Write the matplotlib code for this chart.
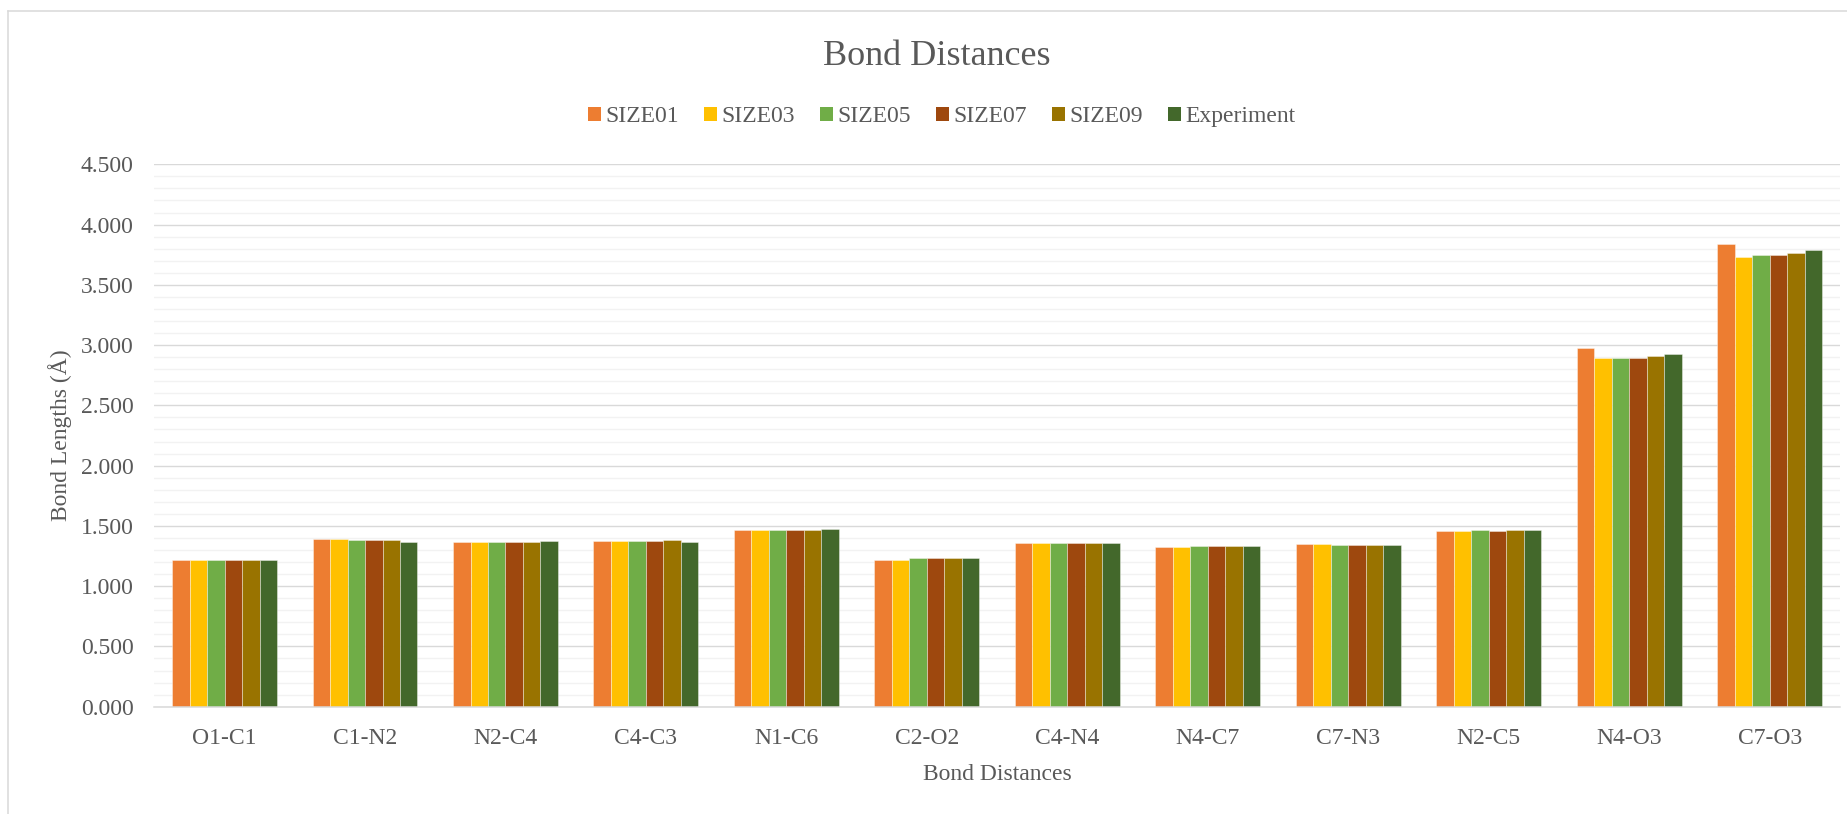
import numpy as np
import matplotlib
matplotlib.use("Agg")
import matplotlib.pyplot as plt
from matplotlib.ticker import MultipleLocator, FormatStrFormatter
from matplotlib.lines import Line2D

# Bond labels and computed / experimental bond lengths (Å)
bonds = ["O1-C1", "C1-N2", "N2-C4", "C4-C3", "N1-C6", "C2-O2",
         "C4-N4", "N4-C7", "C7-N3", "N2-C5", "N4-O3", "C7-O3"]

size01 = [1.220, 1.393, 1.368, 1.371, 1.464, 1.220, 1.360, 1.327, 1.352, 1.456, 2.972, 3.840]
size03 = [1.220, 1.393, 1.368, 1.371, 1.470, 1.220, 1.360, 1.327, 1.352, 1.456, 2.895, 3.735]
size05 = [1.220, 1.385, 1.368, 1.376, 1.470, 1.234, 1.357, 1.335, 1.343, 1.464, 2.895, 3.749]
size07 = [1.220, 1.385, 1.368, 1.376, 1.467, 1.231, 1.354, 1.335, 1.343, 1.459, 2.892, 3.749]
size09 = [1.220, 1.385, 1.365, 1.382, 1.467, 1.231, 1.357, 1.335, 1.343, 1.464, 2.906, 3.764]
experiment = [1.217, 1.368, 1.374, 1.363, 1.473, 1.231, 1.360, 1.330, 1.338, 1.462, 2.928, 3.788]

series_names = ["SIZE01", "SIZE03", "SIZE05", "SIZE07", "SIZE09", "Experiment"]
series_values = [size01, size03, size05, size07, size09, experiment]
series_colors = ["#ED7D31", "#FFC000", "#70AD47", "#9E480E", "#997300", "#43682B"]

TEXT = "#595959"
plt.rcParams["font.family"] = ["Liberation Serif", "DejaVu Serif"]

W, H = 1847, 814
fig = plt.figure(figsize=(W / 100, H / 100), dpi=100)
fig.patch.set_facecolor("white")

# chart-area border (left and top edges fall inside the canvas)
fig.add_artist(Line2D([8 / W, 8 / W], [0, 1 - 10.7 / H], transform=fig.transFigure,
                      color="#D9D9D9", lw=1.1))
fig.add_artist(Line2D([8 / W, 1], [1 - 10.7 / H, 1 - 10.7 / H], transform=fig.transFigure,
                      color="#D9D9D9", lw=1.1))

left, right = 154.3 / W, 1840 / W
bottom, top = 1 - 706.7 / H, 1 - 164.3 / H
ax = fig.add_axes([left, bottom, right - left, top - bottom])

x = np.arange(len(bonds))
n = len(series_names)
group_w = 0.747
bar_w = group_w / n
for i, (name, vals, col) in enumerate(zip(series_names, series_values, series_colors)):
    offs = -group_w / 2 + bar_w * (i + 0.5)
    ax.bar(x + offs, vals, width=bar_w, color=col, label=name,
           edgecolor=(1, 1, 1, 0.45), linewidth=0.6, zorder=3)

ax.set_xlim(-0.5, len(bonds) - 0.5)
ax.set_ylim(0, 4.5)
ax.yaxis.set_major_locator(MultipleLocator(0.5))
ax.yaxis.set_minor_locator(MultipleLocator(0.1))
ax.yaxis.set_major_formatter(FormatStrFormatter("%.3f"))
ax.grid(which="minor", axis="y", color="#F2F2F2", lw=1.0, zorder=0)
ax.grid(which="major", axis="y", color="#D9D9D9", lw=1.0, zorder=1)
ax.set_axisbelow(True)

for s in ["top", "right", "left"]:
    ax.spines[s].set_visible(False)
ax.spines["bottom"].set_color("#D9D9D9")
ax.spines["bottom"].set_linewidth(1.1)
ax.spines["bottom"].set_zorder(4)

ax.set_xticks(x)
ax.set_xticklabels(bonds)
ax.tick_params(axis="x", length=0, pad=15, labelsize=17, labelcolor=TEXT)
ax.tick_params(axis="y", which="both", length=0, pad=15, labelsize=17, labelcolor=TEXT)

fig.text((left + right) / 2, 1 - 775 / H, "Bond Distances", ha="center", va="center",
         fontsize=17, color=TEXT)
fig.text(60.5 / W, 1 - 435.5 / H, "Bond Lengths (Å)", ha="center", va="center",
         rotation=90, fontsize=17, color=TEXT)
fig.text(0.507, 1 - 56.5 / H, "Bond Distances", ha="center", va="center",
         fontsize=26, color=TEXT)

handles, labels = ax.get_legend_handles_labels()
leg = fig.legend(handles, labels, loc="center", bbox_to_anchor=(0.510, 1 - 116.5 / H),
                 ncol=6, frameon=False, fontsize=17, handlelength=0.55, handleheight=0.55,
                 handletextpad=0.2, columnspacing=1.05, borderaxespad=0)
for t in leg.get_texts():
    t.set_color(TEXT)
for h in leg.legend_handles:
    h.set_edgecolor("none")

fig.savefig("out.png", dpi=100, facecolor="white")
